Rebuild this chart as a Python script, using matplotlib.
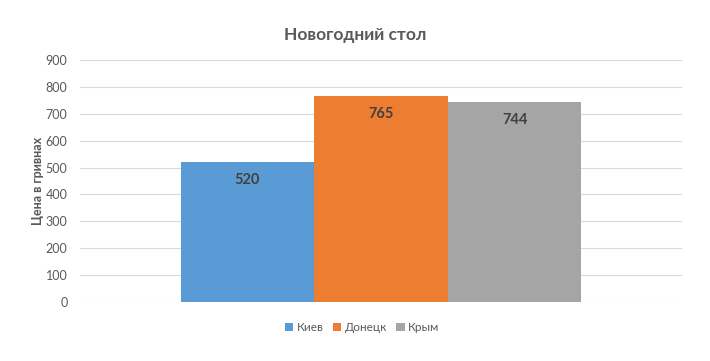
import matplotlib
matplotlib.use('Agg')
import matplotlib.pyplot as plt

# data
cities = ['Киев', 'Донецк', 'Крым']
prices = [520, 765, 744]
colors = ['#5B9BD5', '#ED7D31', '#A5A5A5']

plt.rcParams['font.family'] = ['Lato', 'DejaVu Sans']

fig = plt.figure(figsize=(7.10, 3.61), dpi=100)
ax = fig.add_axes([0.1127, 0.1634, 0.8479, 0.6704])

w = 0.222
offsets = [-w, 0, w]
for name, val, c, off in zip(cities, prices, colors, offsets):
    ax.bar(off, val, width=w, color=c, label=name, zorder=3)
    ax.annotate(str(val), (off, val), xytext=(0, -13), textcoords='offset points',
                ha='center', va='center', fontsize=10.5, fontweight='bold', color='#404040')

ax.set_xlim(-0.5, 0.5)
ax.set_ylim(0, 900)
ax.set_yticks(range(0, 901, 100))
ax.set_xticks([])
ax.grid(axis='y', color='#D9D9D9', linewidth=0.8, zorder=0)
for s in ax.spines.values():
    s.set_visible(False)
ax.tick_params(axis='y', length=0, labelsize=9, labelcolor='#595959', pad=9)

ax.set_ylabel('Цена в гривнах', fontsize=9, fontweight='bold', color='#595959')
ax.yaxis.set_label_coords(-0.06, 0.5)
fig.text(0.5, 1 - 35 / 361, 'Новогодний стол', ha='center', va='center',
         fontsize=12.5, fontweight='bold', color='#595959')

ax.legend(loc='upper center', bbox_to_anchor=(0.51, 0.137), bbox_transform=fig.transFigure,
          ncol=3, frameon=False, fontsize=8.5, handlelength=0.7, handleheight=0.7,
          handletextpad=0.3, columnspacing=0.8, labelcolor='#595959')

fig.savefig('out.png', dpi=100)
